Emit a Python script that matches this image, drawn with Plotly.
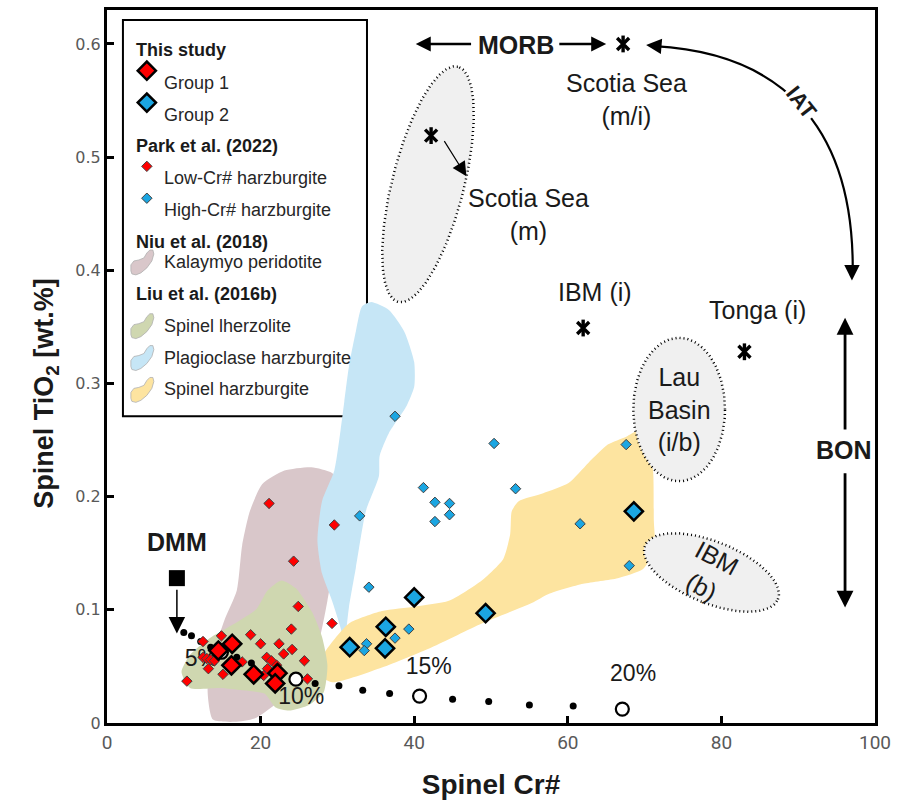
import numpy as np
import plotly.graph_objects as go

# ---------------- data ----------------
# This study
g1_cr = [14.5, 16.3, 16.2, 19.1, 22.2, 21.9]
g1_ti = [0.064, 0.070, 0.051, 0.043, 0.044, 0.035]
g2_cr = [31.6, 36.2, 36.3, 40.0, 49.3, 68.6]
g2_ti = [0.067, 0.066, 0.085, 0.111, 0.097, 0.187]

# Park et al. (2022)
low_cr = [21.1, 29.6, 24.3, 24.9, 24.0, 29.3, 12.5, 14.9, 18.7, 20.0, 22.4, 24.1, 23.0, 25.7,
          10.4, 13.2, 15.1, 17.6, 20.4, 20.8, 21.4, 22.1, 20.9, 26.1, 12.5, 13.0, 13.5, 14.0]
low_ti = [0.194, 0.175, 0.143, 0.103, 0.083, 0.088, 0.072, 0.077, 0.078, 0.070, 0.070, 0.065, 0.061, 0.055,
          0.037, 0.048, 0.043, 0.054, 0.042, 0.058, 0.055, 0.051, 0.048, 0.039, 0.058, 0.057, 0.056, 0.055]
high_cr = [37.5, 50.4, 41.2, 53.2, 42.7, 44.6, 44.6, 42.7, 32.9, 34.1, 67.6, 61.6, 68.0, 39.3, 37.5, 33.8, 33.5]
high_ti = [0.271, 0.247, 0.208, 0.207, 0.195, 0.194, 0.184, 0.178, 0.183, 0.120, 0.246, 0.176, 0.139,
           0.083, 0.075, 0.070, 0.064]

# Niu et al. (2018) - Kalaymyo peridotite field
kal_cr = [13.8, 13.1, 14.0, 15.3, 16.9, 17.6, 18.6, 20.2, 23.1, 26.6, 29.3, 30.6, 30.6, 29.6, 28.7, 27.6, 25.0,
          21.8, 19.2, 16.6]
kal_ti = [0.003, 0.029, 0.064, 0.091, 0.117, 0.157, 0.187, 0.211, 0.223, 0.226, 0.221, 0.209, 0.179, 0.143,
          0.108, 0.073, 0.038, 0.016, 0.004, 0.001]

# Liu et al. (2016b) fields
lhz_cr = [9.7, 10.8, 13.4, 16.9, 19.5, 20.9, 22.7, 24.6, 26.7, 28.0, 28.7, 28.2, 26.3, 23.7, 21.9, 20.5, 17.6,
          14.7, 10.8]
lhz_ti = [0.045, 0.060, 0.075, 0.089, 0.101, 0.117, 0.126, 0.119, 0.098, 0.076, 0.051, 0.027, 0.016, 0.011,
          0.014, 0.026, 0.029, 0.031, 0.031]
plg_cr = [34.4, 36.7, 38.7, 40.0, 40.0, 39.0, 36.7, 35.5, 35.4, 33.7, 32.4, 31.5, 31.1, 31.0, 30.6, 30.6, 29.3,
          28.0, 27.4, 28.0, 29.6, 30.4, 30.9, 31.5, 32.4, 33.2]
plg_ti = [0.372, 0.365, 0.346, 0.319, 0.297, 0.280, 0.256, 0.236, 0.218, 0.187, 0.137, 0.102, 0.077, 0.060,
          0.064, 0.079, 0.108, 0.132, 0.161, 0.196, 0.223, 0.258, 0.284, 0.315, 0.346, 0.368]
shz_cr = [27.2, 28.5, 31.5, 35.8, 40.2, 44.5, 48.8, 51.6, 52.5, 52.7, 53.6, 56.8, 60.1, 62.7, 65.2, 67.6, 69.1,
          70.4, 71.1, 71.2, 71.3, 69.8, 66.5, 62.0, 57.5, 55.3, 48.8, 42.3, 35.8, 29.3]
shz_ti = [0.045, 0.064, 0.088, 0.099, 0.103, 0.108, 0.126, 0.145, 0.167, 0.187, 0.196, 0.203, 0.212, 0.230,
          0.246, 0.253, 0.258, 0.245, 0.223, 0.179, 0.154, 0.136, 0.128, 0.123, 0.114, 0.106, 0.088, 0.067,
          0.049, 0.036]

# Reference compositions (fore-arc / back-arc spinels)
ref_names = ["Scotia Sea (m/i)", "Scotia Sea (m)", "IBM (i)", "Tonga (i)"]
ref_cr = [67.2, 42.2, 62.0, 83.0]
ref_ti = [0.600, 0.519, 0.349, 0.328]

# Reference fields: centre Cr#, centre TiO2, semi-axes (Cr# units), tilt (deg)
ell_names = ["Scotia Sea (m)", "Lau Basin (i/b)", "IBM (b)"]
ell_cr = [41.8, 74.5, 78.7]
ell_ti = [0.476, 0.277, 0.133]
ell_a = [15.8, 5.97, 9.34]
ell_b = [4.67, 9.34, 4.02]
ell_rot = [75.8, 0.0, -22.0]

# DMM and fractional melting trend
dmm_cr = [9.1]
dmm_ti = [0.128]
melt_cr = [10.0, 11.0, 12.2, 13.5, 16.9, 18.8, 20.8, 22.7, 27.1, 30.2, 33.3, 36.8, 45.0, 49.7, 55.0, 60.7]
melt_ti = [0.080, 0.077, 0.072, 0.067, 0.058, 0.053, 0.048, 0.043, 0.035, 0.033, 0.029, 0.026, 0.021, 0.019,
           0.016, 0.015]
step_labels = ["5%", "10%", "15%", "20%"]
step_cr = [14.9, 24.6, 40.7, 67.1]
step_ti = [0.0625, 0.0387, 0.0238, 0.0123]
step_lab_cr = [12.3, 25.3, 41.9, 68.5]
step_lab_ti = [0.0554, 0.022, 0.0484, 0.0422]

# ---------------- style ----------------
RED = "#ff0000"
BLUE = "#1ba6e2"
C_KAL = "#d9c7ca"
C_LHZ = "#cfd7b0"
C_PLG = "#c6e6f6"
C_SHZ = "#fde4a0"
FONT = "Liberation Sans, Arial, sans-serif"
ASPECT = 147.4  # screen px per TiO2 unit / px per Cr# unit

fig = go.Figure()


def field(xs, ys, color):
    fig.add_trace(go.Scatter(x=xs + xs[:1], y=ys + ys[:1], mode="lines", fill="toself",
                             fillcolor=color, line=dict(color=color, width=0, shape="spline", smoothing=0.6),
                             hoverinfo="skip", showlegend=False))


field(kal_cr, kal_ti, C_KAL)
field(plg_cr, plg_ti, C_PLG)
field(shz_cr, shz_ti, C_SHZ)
field(lhz_cr, lhz_ti, C_LHZ)

# elliptical reference fields
t = np.linspace(0, 2 * np.pi, 200)
for cx, cy, a, b, rot in zip(ell_cr, ell_ti, ell_a, ell_b, ell_rot):
    p = np.deg2rad(rot)
    u, v = a * np.cos(t), b * np.sin(t)
    ex = cx + u * np.cos(p) - v * np.sin(p)
    ey = cy + (u * np.sin(p) + v * np.cos(p)) / ASPECT
    fig.add_trace(go.Scatter(x=ex, y=ey, mode="lines", fill="toself", fillcolor="#f0f0f0",
                             line=dict(color="black", width=2.5, dash="1px,3px"),
                             hoverinfo="skip", showlegend=False))

# melting-degree labels (drawn beneath the symbols)
fig.add_trace(go.Scatter(x=step_lab_cr, y=step_lab_ti, mode="text", text=step_labels,
                         textfont=dict(family=FONT, size=23, color="#1a1a1a"),
                         hoverinfo="skip", showlegend=False))
# melting trend
fig.add_trace(go.Scatter(x=melt_cr, y=melt_ti, mode="markers",
                         marker=dict(symbol="circle", size=7, color="black"),
                         hoverinfo="skip", showlegend=False))
fig.add_trace(go.Scatter(x=step_cr, y=step_ti, mode="markers",
                         marker=dict(symbol="circle", size=13, color="white", line=dict(color="black", width=2.2)),
                         hoverinfo="skip", showlegend=False))

# Park et al. (2022)
fig.add_trace(go.Scatter(x=low_cr, y=low_ti, mode="markers", name="Low-Cr# harzburgite",
                         marker=dict(symbol="diamond", size=8, color=RED, line=dict(color="#404040", width=1)),
                         showlegend=False))
fig.add_trace(go.Scatter(x=high_cr, y=high_ti, mode="markers", name="High-Cr# harzburgite",
                         marker=dict(symbol="diamond", size=8, color=BLUE, line=dict(color="#404040", width=1)),
                         showlegend=False))
# This study
fig.add_trace(go.Scatter(x=g1_cr, y=g1_ti, mode="markers", name="Group 1",
                         marker=dict(symbol="diamond", size=14, color=RED, line=dict(color="black", width=2.5)),
                         showlegend=False))
fig.add_trace(go.Scatter(x=g2_cr, y=g2_ti, mode="markers", name="Group 2",
                         marker=dict(symbol="diamond", size=14, color=BLUE, line=dict(color="black", width=2.5)),
                         showlegend=False))

# reference compositions
for sym in ["x-thin-open", "line-ns-open"]:
    fig.add_trace(go.Scatter(x=ref_cr, y=ref_ti, mode="markers", text=ref_names,
                             marker=dict(symbol=sym, size=12, color="black",
                                         line=dict(color="black", width=3.4)),
                             showlegend=False))
# DMM
fig.add_trace(go.Scatter(x=dmm_cr, y=dmm_ti, mode="markers", name="DMM",
                         marker=dict(symbol="square", size=16, color="black"), showlegend=False))

ann = []


def label(x, y, text, size=25, bold=False, angle=0, bg=None):
    ann.append(dict(x=x, y=y, xref="x", yref="y", text=f"<b>{text}</b>" if bold else text,
                    showarrow=False, textangle=angle, bgcolor=bg,
                    font=dict(family=FONT, size=size, color="#1a1a1a")))


def arrow(x, y, ax, ay, width=2.5, size=1.2):
    ann.append(dict(x=x, y=y, ax=ax, ay=ay, xref="x", yref="y", axref="x", ayref="y", text="",
                    showarrow=True, arrowhead=2, arrowsize=size, arrowwidth=width, arrowcolor="black"))


label(67.6, 0.551, "Scotia Sea<br>(m/i)")
label(54.9, 0.449, "Scotia Sea<br>(m)")
label(63.6, 0.381, "IBM (i)")
label(84.7, 0.365, "Tonga (i)")
label(74.6, 0.277, "Lau<br>Basin<br>(i/b)")
label(78.4, 0.133, "IBM<br>(b)", angle=28)
label(53.2, 0.599, "MORB", bold=True)
label(9.1, 0.160, "DMM", bold=True)
label(96.0, 0.241, "BON", bold=True)

arrow(40.2, 0.6, 47.6, 0.6)
arrow(65.0, 0.6, 58.7, 0.6)
arrow(96.1, 0.358, 96.1, 0.258, width=2.8)
arrow(96.1, 0.102, 96.1, 0.222, width=2.8)
arrow(9.1, 0.079, 9.1, 0.119, width=1.5, size=2.2)
arrow(46.8, 0.483, 43.8, 0.5155, width=1.2, size=2.4)

# IAT curve (back to Scotia Sea / down to BON)
shapes = [dict(type="path", xref="x", yref="y",
               path="M 71.3,0.598 C 87.5,0.592 97.0,0.53 97.1,0.404",
               line=dict(color="black", width=2.2))]
arrow(70.2, 0.599, 72.0, 0.598, width=2.2, size=1.4)
arrow(97.0, 0.391, 97.0, 0.405, width=2.2, size=1.4)
label(90.4, 0.548, "IAT", size=22, bold=True, angle=52, bg="white")

# ---------------- legend box ----------------
PX0, PW, PY0, PH = 107, 771, 723, 716


def P(px, py):
    return (px - PX0) / PW, (PY0 - py) / PH


x0, y0 = P(123, 17)
x1, y1 = P(368, 415)
shapes.append(dict(type="rect", xref="paper", yref="paper", x0=x0, y0=y1, x1=x1, y1=y0,
                   fillcolor="white", line=dict(color="black", width=2), layer="below"))

rows = [
    ("This study", 35, "h", None),
    ("Group 1", 68, "big", RED),
    ("Group 2", 100, "big", BLUE),
    ("Park et al. (2022)", 132, "h", None),
    ("Low-Cr# harzburgite", 164, "small", RED),
    ("High-Cr# harzburgite", 196, "small", BLUE),
    ("Niu et al. (2018)", 228, "h", None),
    ("Kalaymyo peridotite", 260, "blob", C_KAL),
    ("Liu et al. (2016b)", 292, "h", None),
    ("Spinel lherzolite", 324, "blob", C_LHZ),
    ("Plagioclase harzburgite", 356, "blob", C_PLG),
    ("Spinel harzburgite", 388, "blob", C_SHZ),
]
blob = [(-11, 9), (-11, 3), (-8, -1), (-3, -2), (2, -4), (5, -9), (8, -12), (11, -12), (12, -8), (10, -1),
        (5, 6), (-1, 11), (-6, 13), (-10, 12)]

leg_x, leg_y, leg_c, leg_s, leg_l = [], [], [], [], []
for text, py, kind, col in rows:
    if kind == "h":
        xx, yy = P(134, py)
        ann.append(dict(x=xx, y=yy, xref="paper", yref="paper", text=f"<b>{text}</b>", showarrow=False,
                        xanchor="left", font=dict(family=FONT, size=18, color="#1a1a1a")))
        continue
    xx, yy = P(162, py)
    ann.append(dict(x=xx, y=yy, xref="paper", yref="paper", text=text, showarrow=False,
                    xanchor="left", font=dict(family=FONT, size=18, color="#262626")))
    if kind == "blob":
        pts = [P(142 + dx, py + dy) for dx, dy in blob]
        path = "M " + " L ".join(f"{a:.4f},{b:.4f}" for a, b in pts) + " Z"
        shapes.append(dict(type="path", xref="paper", yref="paper", path=path, fillcolor=col,
                           line=dict(color="#b0b0b0", width=0.8)))
    else:
        mx, my = P(147, py)
        leg_x.append(mx)
        leg_y.append(my)
        leg_c.append(col)
        leg_s.append(14 if kind == "big" else 8)
        leg_l.append(dict(color="black", width=2.5) if kind == "big" else dict(color="#404040", width=1))

for mx, my, c, s, ln in zip(leg_x, leg_y, leg_c, leg_s, leg_l):
    fig.add_trace(go.Scatter(x=[mx], y=[my], xaxis="x2", yaxis="y2", mode="markers",
                             marker=dict(symbol="diamond", size=s, color=c, line=ln),
                             hoverinfo="skip", showlegend=False))

# y-axis title
tx, ty = P(27, 392)
ann.append(dict(x=tx, y=ty, xref="paper", yref="paper", text="<b>Spinel TiO<sub>2</sub> [wt.%]</b>",
                showarrow=False, textangle=-90, font=dict(family=FONT, size=27, color="#1a1a1a")))

fig.update_layout(
    width=898, height=811,
    margin=dict(l=107, r=20, t=7, b=88),
    paper_bgcolor="white", plot_bgcolor="white",
    showlegend=False,
    annotations=ann, shapes=shapes,
    xaxis=dict(range=[0, 100], tickvals=[0, 20, 40, 60, 80, 100], ticks="inside", ticklen=7, tickwidth=2.5,
               tickcolor="black", showline=True, linecolor="black", linewidth=3, mirror=True,
               showgrid=False, zeroline=False,
               tickfont=dict(family="Roboto, Liberation Sans, sans-serif", size=19, color="#595959"),
               title=dict(text="<b>Spinel Cr#</b>", font=dict(family=FONT, size=28, color="#1a1a1a"),
                          standoff=22)),
    yaxis=dict(range=[0, 0.63], tickvals=[0, 0.1, 0.2, 0.3, 0.4, 0.5, 0.6],
               ticktext=["0", "0.1", "0.2", "0.3", "0.4", "0.5", "0.6"],
               ticks="inside", ticklen=7, tickwidth=2.5, tickcolor="black",
               showline=True, linecolor="black", linewidth=3, mirror=True,
               showgrid=False, zeroline=False,
               tickfont=dict(family="DejaVu Sans, sans-serif", size=16, color="#595959")),
    xaxis2=dict(overlaying="x", range=[0, 1], visible=False, fixedrange=True),
    yaxis2=dict(overlaying="y", range=[0, 1], visible=False, fixedrange=True),
)

fig.write_html("out.html")
